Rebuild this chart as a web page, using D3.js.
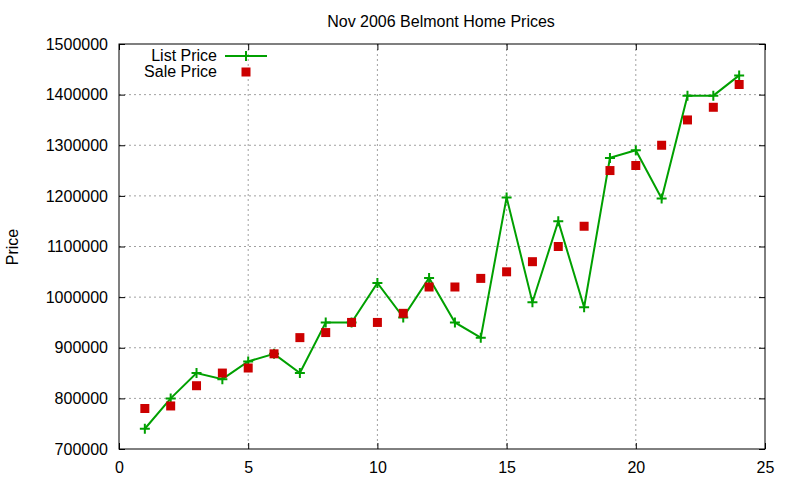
<!DOCTYPE html>
<html>
<head>
<script src="https://d3js.org/d3.v7.min.js"></script>
<style>
  body { margin: 0; background: #fff; }
  text { font-family: "Liberation Sans", Arial, sans-serif; }
  .grid line { stroke: #a0a0a0; stroke-dasharray: 2,3; }
</style>
</head>
<body>
<svg width="800" height="480"></svg>
<script>
var days = d3.range(1, 25);
var listPrice = [740000, 800000, 850000, 838000, 873000, 888000, 850000, 950000,
  950000, 1028000, 960000, 1038000, 950000, 920000, 1197000, 990000,
  1150000, 980000, 1275000, 1290000, 1195000, 1398000, 1398000, 1438000];
var salePrice = [780000, 785000, 825000, 850000, 860000, 888000, 920000, 930000,
  950000, 950000, 968000, 1020000, 1020000, 1037000, 1050000, 1070000,
  1100000, 1140000, 1250000, 1260000, 1300000, 1350000, 1375000, 1420000];
var xTicks = [0, 5, 10, 15, 20, 25];
var yTicks = d3.range(700000, 1500001, 100000);

var pLeft = 119, pRight = 765, pTop = 44, pBottom = 449;
var svg = d3.select("svg");

var x = d3.scaleLinear().domain([0, 25]).range([pLeft, pRight]);
var y = d3.scaleLinear().domain([700000, 1500000]).range([pBottom, pTop]);

// grid
var grid = svg.append("g").attr("class", "grid");
grid.selectAll(".gx").data(xTicks.slice(1, -1)).enter().append("line")
  .attr("x1", function(d) { return x(d); }).attr("x2", function(d) { return x(d); })
  .attr("y1", pTop).attr("y2", pBottom);
grid.selectAll(".gy").data(yTicks.slice(1, -1)).enter().append("line")
  .attr("y1", function(d) { return y(d); }).attr("y2", function(d) { return y(d); })
  .attr("x1", pLeft).attr("x2", pRight);

// axes with inward ticks, mirrored
function styleAxis(g) {
  g.select(".domain").remove();
  g.selectAll("text").style("font-size", "16px").attr("fill", "#000");
}
svg.append("g").attr("transform", "translate(0," + pBottom + ")")
  .call(d3.axisBottom(x).tickValues(xTicks).tickSizeInner(-6).tickSizeOuter(0).tickPadding(13))
  .call(styleAxis);
svg.append("g").attr("transform", "translate(0," + pTop + ")")
  .call(d3.axisTop(x).tickValues(xTicks).tickSizeInner(-6).tickSizeOuter(0).tickFormat(""))
  .call(styleAxis);
svg.append("g").attr("transform", "translate(" + pLeft + ",0)")
  .call(d3.axisLeft(y).tickValues(yTicks).tickSizeInner(-6).tickSizeOuter(0).tickPadding(11).tickFormat(d3.format("d")))
  .call(styleAxis);
svg.append("g").attr("transform", "translate(" + pRight + ",0)")
  .call(d3.axisRight(y).tickValues(yTicks).tickSizeInner(-6).tickSizeOuter(0).tickFormat(""))
  .call(styleAxis);

svg.append("rect").attr("x", pLeft).attr("y", pTop)
  .attr("width", pRight - pLeft).attr("height", pBottom - pTop)
  .attr("fill", "none").attr("stroke", "#000").attr("stroke-width", 1);

// list price line
var line = d3.line()
  .x(function(d, i) { return x(days[i]); })
  .y(function(d) { return y(d); });
svg.append("path").datum(listPrice)
  .attr("d", line).attr("fill", "none")
  .attr("stroke", "#00a000").attr("stroke-width", 2);

function plus(g, cx, cy) {
  g.append("path")
    .attr("d", "M" + (cx - 5) + "," + cy + "H" + (cx + 5) + "M" + cx + "," + (cy - 5) + "V" + (cy + 5))
    .attr("stroke", "#00a000").attr("stroke-width", 2);
}
var pts = svg.append("g");
listPrice.forEach(function(d, i) { plus(pts, x(days[i]), y(d)); });

// sale price squares
svg.append("g").selectAll("rect").data(salePrice).enter().append("rect")
  .attr("x", function(d, i) { return x(days[i]) - 4.5; })
  .attr("y", function(d) { return y(d) - 4.5; })
  .attr("width", 9).attr("height", 9)
  .attr("fill", "#cc0000");

// legend
svg.append("text").attr("x", 217).attr("y", 61).attr("text-anchor", "end")
  .style("font-size", "16px").text("List Price");
svg.append("line").attr("x1", 225).attr("x2", 267).attr("y1", 56).attr("y2", 56)
  .attr("stroke", "#00a000").attr("stroke-width", 2);
plus(svg, 246, 56);
svg.append("text").attr("x", 217).attr("y", 77).attr("text-anchor", "end")
  .style("font-size", "16px").text("Sale Price");
svg.append("rect").attr("x", 241.5).attr("y", 67.5).attr("width", 9).attr("height", 9)
  .attr("fill", "#cc0000");

// title and label
svg.append("text").attr("x", 441).attr("y", 27).attr("text-anchor", "middle")
  .style("font-size", "16px").text("Nov 2006 Belmont Home Prices");
svg.append("text").attr("transform", "translate(18,247) rotate(-90)")
  .attr("text-anchor", "middle").style("font-size", "16px").text("Price");
</script>
</body>
</html>
